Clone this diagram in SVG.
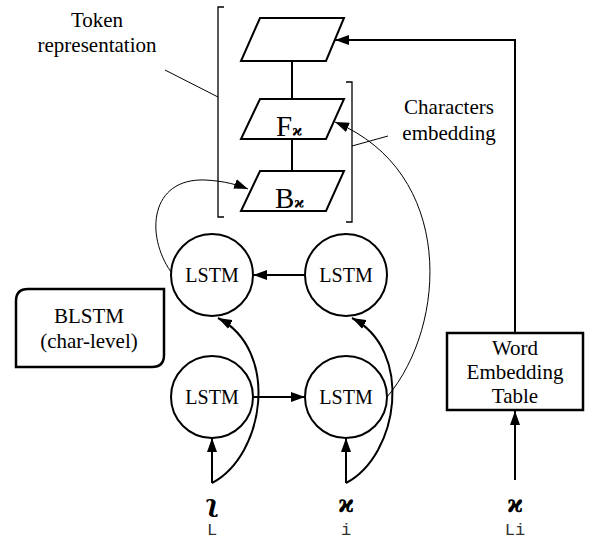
<svg xmlns="http://www.w3.org/2000/svg" width="592" height="542" viewBox="0 0 592 542">
  <style>
    .t { font-family: "Liberation Serif", "Times New Roman", serif; font-size: 21px; text-anchor: middle; fill: #000; }
    .lstm { font-size: 20px; }
    .big { font-size: 29px; text-anchor: start; }
    .g { font-family: "DejaVu Serif", "Liberation Serif", serif; font-weight: bold; text-anchor: middle; fill: #000; }
    .sub { font-size: 15px; }
    .in { font-size: 24px; }
    .m { font-family: "Liberation Mono", monospace; font-size: 17px; text-anchor: middle; fill: #333; }
    .thick { stroke: #000; stroke-width: 2; fill: none; }
    .thin { stroke: #000; stroke-width: 1; fill: none; }
    .brk { stroke: #000; stroke-width: 1.3; fill: none; }
    .shape { stroke: #000; stroke-width: 2; fill: #fff; }
    .box { stroke: #000; stroke-width: 2.5; fill: #fff; }
  </style>
  <defs>
    <marker id="ah" viewBox="0 0 14 10" refX="14" refY="5" markerWidth="14" markerHeight="10" orient="auto" markerUnits="userSpaceOnUse">
      <path d="M0,0 L14,5 L0,10 z" fill="#000"/>
    </marker>
  </defs>

  <rect width="592" height="542" fill="#fff"/>

  <!-- connectors -->
  <g id="connectors">
    <line class="thick" x1="292" y1="61" x2="292" y2="99"/>
    <line class="thick" x1="292" y1="139" x2="292" y2="171"/>
    <path class="thick" d="M515,333 V40 H335" marker-end="url(#ah)"/>
    <path class="thick" d="M305,275 H253" marker-end="url(#ah)"/>
    <path class="thick" d="M253,397 H305" marker-end="url(#ah)"/>
    <path class="thick" d="M212,483 V438" marker-end="url(#ah)"/>
    <path class="thick" d="M346,483 V438" marker-end="url(#ah)"/>
    <path class="thick" d="M515,480 V411" marker-end="url(#ah)"/>
    <path class="thick" d="M212,483 C265,455 280,350 218,318" marker-end="url(#ah)"/>
    <path class="thick" d="M346,483 C399,455 414,350 352,318" marker-end="url(#ah)"/>
    <path class="thin" d="M387,397 C448,325 455,172 335,122" marker-end="url(#ah)"/>
    <path class="thin" d="M171,272 C145,235 150,178 205,180 C225,181 238,185 248,189" marker-end="url(#ah)"/>
    <line class="thin" x1="165" y1="70" x2="218" y2="97"/>
    <line class="thin" x1="352" y1="146" x2="388" y2="136"/>
  </g>

  <!-- token representation -->
  <g id="token">
    <polygon class="shape" points="260,18 344,18 326,61 241,61"/>
    <path class="brk" d="M224,7 H218 V217 H224"/>
    <text class="t" x="97" y="27">Token</text>
    <text class="t" x="97" y="52">representation</text>
  </g>

  <!-- characters embedding -->
  <g id="char-embedding">
    <path class="brk" d="M346,82 H352 V222 H346"/>
    <text class="t" x="449" y="114">Characters</text>
    <text class="t" x="449" y="140">embedding</text>
  </g>

  <g id="fwd">
    <polygon class="shape" points="260,99 344,99 326,139 241,139"/>
    <text class="t big" x="276" y="136">F<tspan class="g sub">ϰ</tspan></text>
  </g>

  <g id="bwd">
    <polygon class="shape" points="260,171 344,171 326,211 241,211"/>
    <text class="t big" x="275" y="208">B<tspan class="g sub">ϰ</tspan></text>
  </g>

  <g id="lstm-b1">
    <circle class="shape" cx="212" cy="275" r="41"/>
    <text class="t lstm" x="212" y="282">LSTM</text>
  </g>
  <g id="lstm-b2">
    <circle class="shape" cx="346" cy="275" r="41"/>
    <text class="t lstm" x="346" y="282">LSTM</text>
  </g>
  <g id="lstm-f1">
    <circle class="shape" cx="212" cy="397" r="41"/>
    <text class="t lstm" x="212" y="404">LSTM</text>
  </g>
  <g id="lstm-f2">
    <circle class="shape" cx="346" cy="397" r="41"/>
    <text class="t lstm" x="346" y="404">LSTM</text>
  </g>

  <g id="blstm-label">
    <path class="box" d="M28,289 H164 V355 Q164,367 152,367 H16 V301 Q16,289 28,289 Z"/>
    <text class="t" x="89" y="323">BLSTM</text>
    <text class="t" x="89" y="348">(char-level)</text>
  </g>

  <g id="word-table">
    <rect class="box" x="447" y="333" width="136" height="77"/>
    <text class="t" x="515" y="355">Word</text>
    <text class="t" x="515" y="379">Embedding</text>
    <text class="t" x="515" y="403">Table</text>
  </g>

  <g id="input-l">
    <text class="g in" x="212" y="512">ʅ</text>
    <text class="m" x="212" y="535">L</text>
  </g>
  <g id="input-i">
    <text class="g in" x="346" y="512">ϰ</text>
    <text class="m" x="346" y="535">i</text>
  </g>
  <g id="input-li">
    <text class="g in" x="515" y="512">ϰ</text>
    <text class="m" x="515" y="535">Li</text>
  </g>
</svg>
